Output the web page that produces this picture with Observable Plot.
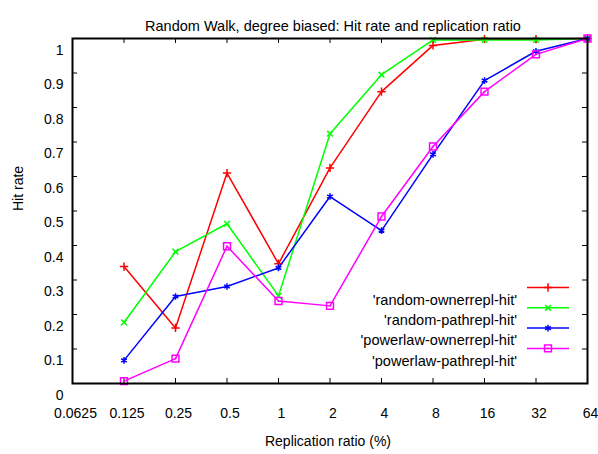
<!DOCTYPE html>
<html>
<head>
<meta charset="utf-8">
<script src="https://cdn.jsdelivr.net/npm/d3@7"></script>
<script src="https://cdn.jsdelivr.net/npm/@observablehq/plot@0.6"></script>
<style>
  html, body { margin: 0; padding: 0; background: #fff; }
  svg { display: block; }
</style>
</head>
<body>
<div id="chart"></div>
<script>
// Replication ratio (%) on a log2 axis
const ratios = [0.125, 0.25, 0.5, 1, 2, 4, 8, 16, 32, 64];

// Hit rate per series
const randomOwnerreplHit   = [0.339, 0.161, 0.610, 0.347, 0.625, 0.846, 0.980, 0.998, 0.998, 1.0];
const randomPathreplHit    = [0.177, 0.382, 0.463, 0.254, 0.724, 0.895, 0.996, 0.996, 0.996, 1.0];
const powerlawOwnerreplHit = [0.067, 0.252, 0.281, 0.335, 0.542, 0.443, 0.664, 0.878, 0.963, 1.0];
const powerlawPathreplHit  = [0.007, 0.072, 0.398, 0.239, 0.225, 0.484, 0.687, 0.846, 0.954, 1.0];

const seriesNames = [
  "'random-ownerrepl-hit'",
  "'random-pathrepl-hit'",
  "'powerlaw-ownerrepl-hit'",
  "'powerlaw-pathrepl-hit'"
];
const seriesValues = [randomOwnerreplHit, randomPathreplHit, powerlawOwnerreplHit, powerlawPathreplHit];
const seriesColors = ["#ff0000", "#00ff00", "#0000ff", "#ff00ff"];
const seriesSymbols = ["plus", "times", "asterisk", "square2"];
const seriesRadius = [2.8, 2.7, 3.1, 4.4];

// Tick labels
const xTicks = [0.0625, 0.125, 0.25, 0.5, 1, 2, 4, 8, 16, 32, 64];
const yTicks = [0, 0.1, 0.2, 0.3, 0.4, 0.5, 0.6, 0.7, 0.8, 0.9, 1];

const titleText = "Random Walk, degree biased: Hit rate and replication ratio";
const xLabel = "Replication ratio (%)";
const yLabel = "Hit rate";

// Long table for the line and dot marks
const rows = seriesNames.flatMap((name, s) =>
  ratios.map((r, i) => ({ series: name, s, ratio: r, value: seriesValues[s][i] }))
);

const W = 598, H = 454;
const mt = 38, mb = 71, ml = 72, mr = 11;
const innerW = W - ml - mr;
const innerH = H - mt - mb;
const tickLen = 5;
const font = "'Liberation Sans', Arial, Helvetica, sans-serif";

const seriesMarks = seriesNames.flatMap((name, s) => {
  const data = rows.filter(d => d.s === s);
  const marks = [
    Plot.line(data, { x: "ratio", y: "value", stroke: seriesColors[s], strokeWidth: 1.5 }),
    Plot.dot(data, { x: "ratio", y: "value", symbol: seriesSymbols[s], r: seriesRadius[s],
                     stroke: seriesColors[s], strokeWidth: 1.5, fill: "none" })
  ];
  if (seriesSymbols[s] === "square2") {
    marks.push(Plot.dot(data, { x: "ratio", y: "value", r: 0.9, fill: seriesColors[s], stroke: "none" }));
  }
  return marks;
});

const chart = Plot.plot({
  width: W,
  height: H,
  marginTop: mt,
  marginBottom: mb,
  marginLeft: ml,
  marginRight: mr,
  style: { fontFamily: font, fontSize: "14px", background: "#fff", color: "#000" },
  x: { type: "log", base: 2, domain: [0.0625, 64], axis: null },
  y: { domain: [0, 1], axis: null },
  marks: [
    // inward ticks on all four sides
    Plot.tickX(xTicks, { x: d => d, insetTop: innerH - tickLen, stroke: "#000", strokeWidth: 1 }),
    Plot.tickX(xTicks, { x: d => d, insetBottom: innerH - tickLen, stroke: "#000", strokeWidth: 1 }),
    Plot.tickY(yTicks, { y: d => d, insetLeft: innerW - tickLen, stroke: "#000", strokeWidth: 1 }),
    Plot.tickY(yTicks, { y: d => d, insetRight: innerW - tickLen, stroke: "#000", strokeWidth: 1 }),
    // tick labels
    Plot.text(xTicks, { x: d => d, frameAnchor: "bottom", dy: 34, dx: 3, text: d => String(d),
                        fontSize: 14, fill: "#000" }),
    Plot.text(yTicks, { y: d => d, frameAnchor: "left", dx: -9, dy: 12, textAnchor: "end",
                        text: d => String(d), fontSize: 14, fill: "#000" }),
    ...seriesMarks,
    Plot.frame({ stroke: "#000", strokeWidth: 2 }),
    // title and axis titles
    Plot.text([titleText], { frameAnchor: "top", dy: -18, dx: 3, text: d => d, fontSize: 14.5, fill: "#000" }),
    Plot.text([xLabel], { frameAnchor: "bottom", dy: 62, dx: -2, text: d => d, fontSize: 14, fill: "#000" }),
    Plot.text([yLabel], { frameAnchor: "left", dx: -54, rotate: -90, text: d => d, fontSize: 14, fill: "#000" })
  ]
});

// Key inside the plot, lower right
const svg = d3.select(chart);
const key = svg.append("g").attr("font-family", font).attr("font-size", 14.6);
const keyTextRight = 517, keyLineX1 = 527, keyLineX2 = 569, keyY0 = 287.5, keyStep = 20.3;
seriesNames.forEach((name, s) => {
  const y = keyY0 + s * keyStep;
  const cx = (keyLineX1 + keyLineX2) / 2;
  key.append("line")
    .attr("x1", keyLineX1).attr("x2", keyLineX2).attr("y1", y).attr("y2", y)
    .attr("stroke", seriesColors[s]).attr("stroke-width", 1.5);
  const symType = { plus: d3.symbolPlus, times: d3.symbolTimes, asterisk: d3.symbolAsterisk, square2: d3.symbolSquare2 }[seriesSymbols[s]];
  key.append("path")
    .attr("d", d3.symbol(symType, Math.PI * seriesRadius[s] * seriesRadius[s])())
    .attr("transform", `translate(${cx},${y})`)
    .attr("fill", "none").attr("stroke", seriesColors[s]).attr("stroke-width", 1.5);
  if (seriesSymbols[s] === "square2") {
    key.append("circle").attr("cx", cx).attr("cy", y).attr("r", 0.9).attr("fill", seriesColors[s]);
  }
  key.append("text")
    .attr("x", keyTextRight).attr("y", y + 12).attr("dy", "0.35em")
    .attr("text-anchor", "end").attr("fill", "#000")
    .text(name);
});

document.getElementById("chart").appendChild(chart);
</script>
</body>
</html>
